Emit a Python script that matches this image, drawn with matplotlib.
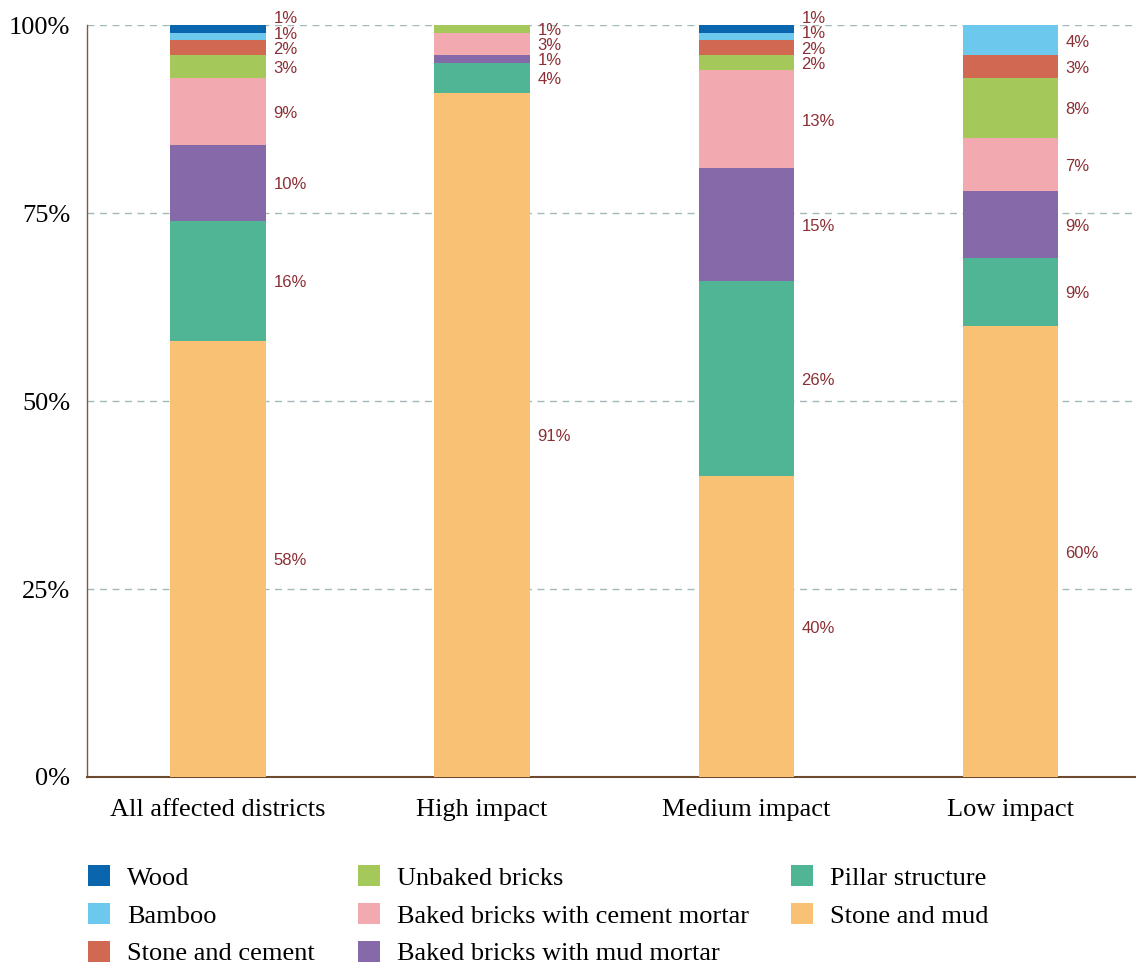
import matplotlib
matplotlib.use("Agg")
import matplotlib.pyplot as plt
import numpy as np

# Housing wall material shares (%) by impact group
groups = ["All affected districts", "High impact", "Medium impact", "Low impact"]
materials = ["Stone and mud", "Pillar structure", "Baked bricks with mud mortar",
             "Baked bricks with cement mortar", "Unbaked bricks", "Stone and cement",
             "Bamboo", "Wood"]
stone_mud = [58, 91, 40, 60]
pillar = [16, 4, 26, 9]
baked_mud = [10, 1, 15, 9]
baked_cement = [9, 3, 13, 7]
unbaked = [3, 1, 2, 8]
stone_cement = [2, 0, 2, 3]
bamboo = [1, 0, 1, 4]
wood = [1, 0, 1, 0]

series = [stone_mud, pillar, baked_mud, baked_cement, unbaked, stone_cement, bamboo, wood]
colors = ["#F8C174", "#4FB594", "#8569A8", "#F3A9B0", "#A4C85A", "#D06852", "#6DC8EE", "#0A66AC"]

fig = plt.figure(figsize=(11.36, 9.67), dpi=100)
ax = fig.add_axes([0.0766, 0.1965, 0.9234, 0.7775])

x = np.arange(len(groups))
width = 0.36
bottom = np.zeros(len(groups))
handles = {}
for name, vals, col in zip(materials, series, colors):
    vals = np.array(vals, dtype=float)
    b = ax.bar(x, vals, width, bottom=bottom, color=col, label=name, zorder=3)
    handles[name] = b
    bottom += vals

# value labels to the right of each bar, nudged apart when crowded
gap = 2.05
for i in range(len(groups)):
    cum = 0
    prev = -10
    for vals in series:
        v = vals[i]
        if v > 0:
            yc = max(cum + v / 2, prev + gap)
            ax.text(x[i] + width / 2 + 0.03, yc - 0.25, f"{v}%", va="center", ha="left",
                    fontsize=12, color="#8B2F35", family="Liberation Sans")
            prev = yc
        cum += v

ax.set_xlim(-0.496, 3.477)
ax.set_ylim(0, 100)
ax.set_yticks([0, 25, 50, 75, 100])
ax.set_yticklabels(["0%", "25%", "50%", "75%", "100%"])
ax.set_xticks(x)
ax.set_xticklabels(groups)
ax.tick_params(axis="both", length=0, labelsize=19)
ax.tick_params(axis="x", pad=16)
ax.tick_params(axis="y", pad=12)
for lab in ax.get_xticklabels() + ax.get_yticklabels():
    lab.set_family("Liberation Serif")
ax.yaxis.grid(True, linestyle=(0, (5, 4)), color="#A3B9B9", linewidth=1, zorder=0)
ax.set_axisbelow(True)
for s in ["top", "right"]:
    ax.spines[s].set_visible(False)
ax.spines["left"].set_color("#7A5A44")
ax.spines["bottom"].set_color("#6B4A2F")
ax.spines["bottom"].set_linewidth(1.5)
ax.spines["left"].set_linewidth(1)

order = ["Wood", "Bamboo", "Stone and cement", "Unbaked bricks",
         "Baked bricks with cement mortar", "Baked bricks with mud mortar",
         "Pillar structure", "Stone and mud"]
leg = fig.legend([handles[n] for n in order], order, loc="upper left",
                 bbox_to_anchor=(0.0566, 0.130), ncol=3, frameon=False,
                 prop={"family": "Liberation Serif", "size": 19},
                 handlelength=0.83, handleheight=0.83, handletextpad=0.65,
                 columnspacing=1.62, labelspacing=0.51)

fig.savefig("out.png", dpi=100)
